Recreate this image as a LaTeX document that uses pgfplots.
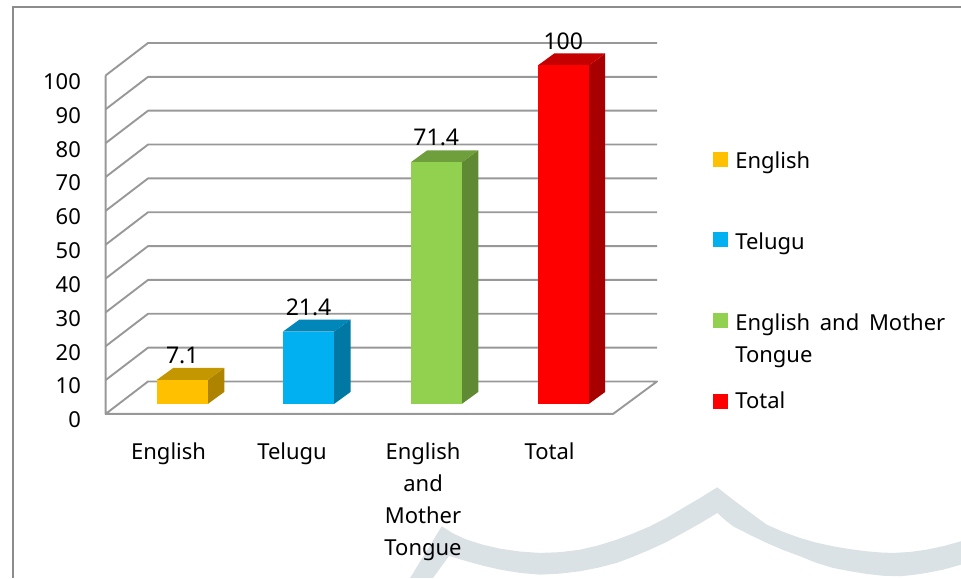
\documentclass[border=0pt]{standalone}
\usepackage{pgfplots}
\usepackage{fontspec}
\setmainfont{Noto Sans}
\pgfplotsset{compat=1.18}
\definecolor{grid}{HTML}{989898}
\definecolor{frame}{HTML}{8C8C8C}
\definecolor{wm}{HTML}{DBE2E6}
\definecolor{engF}{HTML}{FFC000}\definecolor{engS}{HTML}{AE8300}\definecolor{engT}{HTML}{C49600}
\definecolor{telF}{HTML}{00B0F0}\definecolor{telS}{HTML}{0078A4}\definecolor{telT}{HTML}{0086B8}
\definecolor{greF}{HTML}{92D050}\definecolor{greS}{HTML}{5F8A33}\definecolor{greT}{HTML}{6F9E3D}
\definecolor{redF}{HTML}{FF0000}\definecolor{redS}{HTML}{A80000}\definecolor{redT}{HTML}{C40000}
\pgfplotsset{
  gl/.style={forget plot,draw=grid,line width=1.9pt,mark=none,line join=round},
  poly/.style={forget plot,draw=none,mark=none},
}
\begin{document}
\begin{tikzpicture}
\begin{axis}[
  scale only axis,width=961pt,height=578pt,
  xmin=0,xmax=961,ymin=-51.4,ymax=119.35,
  axis line style={draw=none},
  major tick length=0pt,
  axis on top,
  /pgf/number format/assume math mode=true,
  font=\fontsize{22}{32}\selectfont,
  ytick={0,10,...,100},
  yticklabel style={anchor=east,inner sep=0pt,xshift=81pt,yshift=-16pt},
  ytick pos=left,
  xtick={168.5,292,423,549.5},
  xticklabels={English,Telugu,{English\\and\\Mother\\Tongue},Total},
  xticklabel style={anchor=north,align=center,inner sep=0pt,yshift=135pt},
  xtick pos=bottom,
  legend cell align=left,
  legend style={at={(0.742,0.7376)},anchor=north west,draw=none,fill=none,inner sep=0pt,row sep=62pt,
    nodes={inner sep=0pt,outer sep=0pt},
    /tikz/every odd column/.append style={column sep=7pt}},
  nodes near coords style={anchor=center,yshift=24.5pt,inner sep=0pt,font=\fontsize{23}{26}\selectfont},
]
% watermark (typed in picture rows, mapped to the axis)
\addplot[poly,fill=wm,y filter/.expression={(404-y)/3.385}] coordinates {
 (410,578)(441.7,526.3)(453,533.5)(466.7,539.7)(483,544.8)(500,548.7)(520,551.6)(540,553)(560,552.2)(580,549.7)
 (598,545.5)(616.7,539.7)(633,533.5)(650,526.3)(667,517.5)(683,508)(700,498)(717.3,487.3)
 (725,493.5)(733,499.7)(750,512.5)(766.7,524.7)(783,531.8)(800,538)(816,542.6)(833,546.3)(850,549.2)(866.7,551.3)
 (880,552.5)(893,553)(910,552)(926.7,549.7)(944,546)(961,541.3)
 (961,564.7)(944,569.5)(926.7,573)(913,575)(900,576.3)(883,575.8)(866.7,574)(850,571.3)(833,568)(816,562.8)
 (800,556.3)(783,550)(766.7,543)(750,535)(733,526.3)(725,520)(717.3,513)
 (700,523.5)(683,533)(667,541.8)(650,549.7)(633,556.8)(616.7,563)(598,567.8)(580,571.3)(560,573.7)(540,574.7)
 (520,573)(500,569.7)(483,565.8)(466.7,561.3)(449,556)(433,578)};
% frame
\addplot[forget plot,draw=frame,line width=2pt,mark=none] coordinates {(12.5,-51.4)(12.5,117.28)(961,117.28)};
% walls and floor
\addplot[gl] coordinates {(105.5,97.05)(105.5,-2.95)(148,6.65)(657,6.65)(613,-2.95)(105.5,-2.95)};
\addplot[gl] coordinates {(105.5,7.05)(148,16.65)(657,16.65)};
\addplot[gl] coordinates {(105.5,17.05)(148,26.65)(657,26.65)};
\addplot[gl] coordinates {(105.5,27.05)(148,36.65)(657,36.65)};
\addplot[gl] coordinates {(105.5,37.05)(148,46.65)(657,46.65)};
\addplot[gl] coordinates {(105.5,47.05)(148,56.65)(657,56.65)};
\addplot[gl] coordinates {(105.5,57.05)(148,66.65)(657,66.65)};
\addplot[gl] coordinates {(105.5,67.05)(148,76.65)(657,76.65)};
\addplot[gl] coordinates {(105.5,77.05)(148,86.65)(657,86.65)};
\addplot[gl] coordinates {(105.5,87.05)(148,96.65)(657,96.65)};
\addplot[gl] coordinates {(105.5,97.05)(148,106.65)(657,106.65)};
% bar sides and tops
\addplot[poly,fill=engS] coordinates {(207.7,0)(224.2,3.55)(224.2,10.65)(207.7,7.1)};
\addplot[poly,fill=engT] coordinates {(156.7,7.1)(173.2,10.65)(224.2,10.65)(207.7,7.1)};
\addplot[poly,fill=telS] coordinates {(334,0)(350.5,3.55)(350.5,24.95)(334,21.4)};
\addplot[poly,fill=telT] coordinates {(283,21.4)(299.5,24.95)(350.5,24.95)(334,21.4)};
\addplot[poly,fill=greS] coordinates {(461.7,0)(478.2,3.55)(478.2,74.95)(461.7,71.4)};
\addplot[poly,fill=greT] coordinates {(410.7,71.4)(427.2,74.95)(478.2,74.95)(461.7,71.4)};
\addplot[poly,fill=redS] coordinates {(588.7,0)(605.2,3.55)(605.2,103.55)(588.7,100)};
\addplot[poly,fill=redT] coordinates {(537.7,100)(554.2,103.55)(605.2,103.55)(588.7,100)};
% bars
\addplot[ybar,bar width=51,bar shift=0pt,fill=engF,draw=none,nodes near coords,
  legend image code/.code={\fill[engF] (0pt,-5.5pt) rectangle (15pt,9.5pt);}] coordinates {(182.2,7.1)};
\addlegendentry{English}
\addplot[ybar,bar width=51,bar shift=0pt,fill=telF,draw=none,nodes near coords,
  legend image code/.code={\fill[telF] (0pt,-5.5pt) rectangle (15pt,9.5pt);}] coordinates {(308.5,21.4)};
\addlegendentry{Telugu}
\addplot[ybar,bar width=51,bar shift=0pt,fill=greF,draw=none,nodes near coords,
  legend image code/.code={\fill[greF] (0pt,-5pt) rectangle (15pt,10pt);}] coordinates {(436.2,71.4)};
\addlegendentry{\parbox[t]{220pt}{English\kern4pt{} and\kern4pt{} Mother\\Tongue}}
\addplot[ybar,bar width=51,bar shift=0pt,fill=redF,draw=none,nodes near coords,
  legend image code/.code={\fill[redF] (0pt,4pt) rectangle (15pt,19pt);}] coordinates {(563.2,100)};
\addlegendentry{\raisebox{4pt}[0pt][0pt]{Total}}
\end{axis}
\end{tikzpicture}
\end{document}
